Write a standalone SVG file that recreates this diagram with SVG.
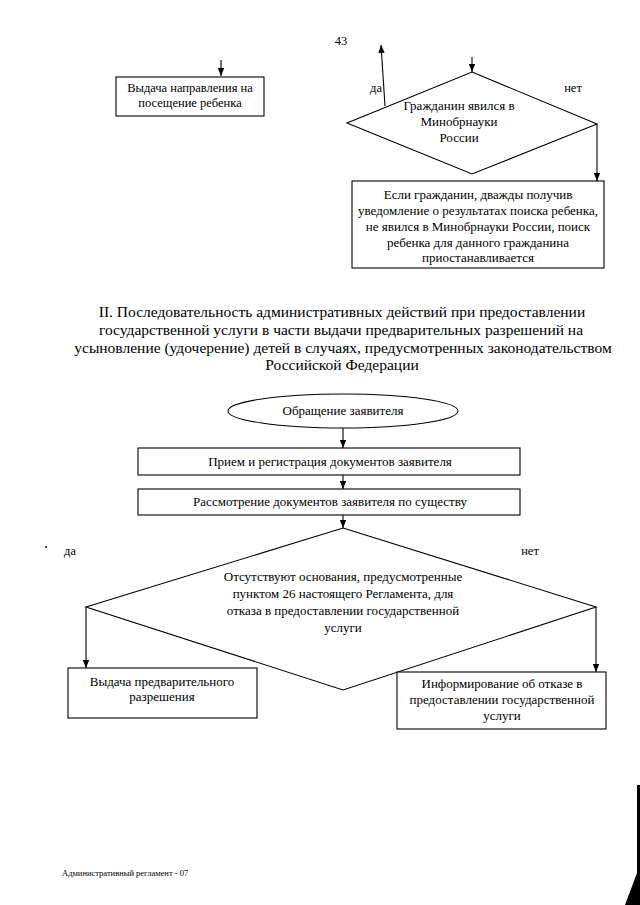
<svg xmlns="http://www.w3.org/2000/svg" width="640" height="905" viewBox="0 0 640 905">
<style>
text{font-family:"Liberation Serif","Times New Roman",serif;fill:#000;font-size:13px;text-anchor:middle}
.shape{fill:#fff;stroke:#000;stroke-width:1.1}
.conn{fill:none;stroke:#000;stroke-width:1.1}
.h{font-size:15.5px}
.lbl{font-size:12.5px}
.foot{font-size:8.5px;text-anchor:start}
</style>
<defs>
<marker id="ah" viewBox="0 0 8 8" refX="8" refY="4" markerWidth="8" markerHeight="8" markerUnits="userSpaceOnUse" orient="auto">
<path d="M0,0.8 L8,4 L0,7.2 Z" fill="#000"/>
</marker>
</defs>
<rect width="640" height="905" fill="#fff"/>
<text x="341" y="45" class="lbl">43</text>

<g id="connectors">
<line class="conn" x1="221" y1="60" x2="221" y2="76" marker-end="url(#ah)"/>
<line class="conn" x1="472" y1="57" x2="472" y2="72" marker-end="url(#ah)"/>
<line class="conn" x1="385" y1="106" x2="381" y2="45" marker-end="url(#ah)"/>
<polyline class="conn" points="597,124 597,181" marker-end="url(#ah)"/>
<line class="conn" x1="343" y1="428" x2="343" y2="448" marker-end="url(#ah)"/>
<line class="conn" x1="343" y1="475" x2="343" y2="489" marker-end="url(#ah)"/>
<line class="conn" x1="343" y1="515" x2="343" y2="528" marker-end="url(#ah)"/>
<line class="conn" x1="86" y1="607" x2="86" y2="668" marker-end="url(#ah)"/>
<line class="conn" x1="596" y1="607" x2="596" y2="672" marker-end="url(#ah)"/>
<text x="376" y="92" class="lbl">да</text>
<text x="573" y="92" class="lbl">нет</text>
<text x="70" y="555" class="lbl">да</text>
<text x="530" y="555" class="lbl">нет</text>
</g>

<g id="box-vydacha-napravleniya">
<rect class="shape" x="116" y="77" width="148" height="39"/>
<text x="190" y="92" class="lbl">Выдача направления на</text>
<text x="190" y="107" class="lbl">посещение ребенка</text>
</g>

<g id="dec-grazhdanin">
<polygon class="shape" points="472,72 597,124 472,174 347,123"/>
<text x="459" y="110">Гражданин явился в</text>
<text x="459" y="126">Минобрнауки</text>
<text x="459" y="142">России</text>
</g>

<g id="box-poisk-priostanavlivaetsya">
<rect class="shape" x="352" y="181" width="252" height="87"/>
<text x="478" y="199">Если гражданин, дважды получив</text>
<text x="478" y="215">уведомление о результатах поиска ребенка,</text>
<text x="478" y="231">не явился в Минобрнауки России, поиск</text>
<text x="478" y="247">ребенка для данного гражданина</text>
<text x="478" y="262">приостанавливается</text>
</g>

<g id="heading">
<text x="342" y="317" class="h">II.  Последовательность административных действий при предоставлении</text>
<text x="341" y="335" class="h">государственной услуги в части выдачи предварительных разрешений на</text>
<text x="343" y="353" class="h">усыновление (удочерение) детей в случаях, предусмотренных законодательством</text>
<text x="342" y="370" class="h">Российской Федерации</text>
</g>

<g id="start-obrashchenie">
<ellipse class="shape" cx="343" cy="411" rx="115" ry="17"/>
<text x="343" y="415">Обращение заявителя</text>
</g>

<g id="box-priem">
<rect class="shape" x="138" y="448" width="382" height="27"/>
<text x="330" y="466">Прием и регистрация документов заявителя</text>
</g>

<g id="box-rassmotrenie">
<rect class="shape" x="138" y="489" width="382" height="26"/>
<text x="330" y="506">Рассмотрение документов заявителя по существу</text>
</g>

<g id="dec-osnovaniya">
<polygon class="shape" points="343,528 596,607 343,690 86,607"/>
<text x="343" y="581">Отсутствуют основания, предусмотренные</text>
<text x="343" y="598">пунктом 26 настоящего Регламента, для</text>
<text x="343" y="615">отказа в предоставлении государственной</text>
<text x="343" y="632">услуги</text>
</g>

<g id="box-vydacha-razresheniya">
<rect class="shape" x="68" y="668" width="189" height="50"/>
<text x="162" y="686">Выдача предварительного</text>
<text x="162" y="701">разрешения</text>
</g>

<g id="box-otkaz">
<rect class="shape" x="397" y="672" width="209" height="57"/>
<text x="502" y="688">Информирование об отказе в</text>
<text x="502" y="704">предоставлении государственной</text>
<text x="502" y="720">услуги</text>
</g>

<text x="62" y="876" class="foot">Административный регламент - 07</text>
<circle cx="46" cy="547" r="1" fill="#000"/>
<polygon points="625,905 640,905 640,785 637,785 637,873" fill="#000"/>
</svg>
